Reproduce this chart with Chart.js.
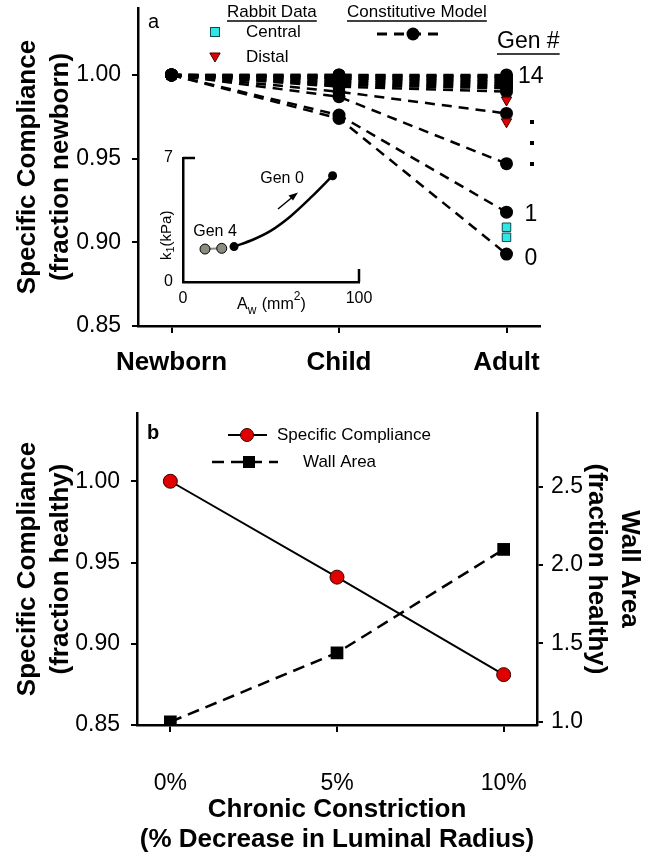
<!DOCTYPE html>
<html><head><meta charset="utf-8">
<script src="https://cdn.jsdelivr.net/npm/chart.js@4.4.0/dist/chart.umd.min.js"></script>
<style>
html,body{margin:0;padding:0;background:#fff;width:654px;height:854px;overflow:hidden}
canvas{position:absolute;left:0}
</style></head><body>
<canvas id="topc" width="654" height="380" style="top:0px"></canvas>
<canvas id="insetc" width="230" height="180" style="left:150px;top:145px"></canvas>
<canvas id="botc" width="654" height="474" style="top:380px"></canvas>
<script>
// ---------- DATA ----------
const stages = ['Newborn', 'Child', 'Adult'];
const genLabels = ['0','1','2','3','4','5','6','7','8','9','10','11','12','13','14'];
const gen0  = [1.000, 0.974, 0.893];
const gen1  = [1.000, 0.976, 0.918];
const gen2  = [1.000, 0.987, 0.947];
const gen3  = [1.000, 0.990, 0.977];
const gen4  = [1.000, 0.993, 0.990];
const gen5  = [1.000, 0.994, 0.992];
const gen6  = [1.000, 0.995, 0.993];
const gen7  = [1.000, 0.996, 0.994];
const gen8  = [1.000, 0.997, 0.995];
const gen9  = [1.000, 0.998, 0.996];
const gen10 = [1.000, 0.998, 0.997];
const gen11 = [1.000, 0.999, 0.998];
const gen12 = [1.000, 0.999, 0.999];
const gen13 = [1.000, 1.000, 0.999];
const gen14 = [1.000, 1.000, 1.000];
const centralAdult = [0.909, 0.903];
const distalAdult = [0.985, 0.972];
const topYTicks = [0.85, 0.90, 0.95, 1.00];

const insetGrayA = [12.5, 22];
const insetGrayK = [1.86, 1.90];
const insetCurveA = [29, 40, 50, 61, 73, 85];
const insetCurveK = [2.0, 2.4, 2.9, 3.7, 4.8, 6.0];
const insetXTicks = [0, 100];
const insetYTicks = [0, 7];

const constriction = ['0%', '5%', '10%'];
const complianceB = [1.000, 0.941, 0.881];
const wallArea = [1.00, 1.44, 2.10];
const botLeftTicks = [0.85, 0.90, 0.95, 1.00];
const botRightTicks = [1.0, 1.5, 2.0, 2.5];

// ---------- SETUP ----------
const FONT = '"Liberation Sans", Arial, sans-serif';
Chart.defaults.font.family = FONT;
Chart.defaults.color = '#000';
const gens = [gen0,gen1,gen2,gen3,gen4,gen5,gen6,gen7,gen8,gen9,gen10,gen11,gen12,gen13,gen14];
const setTicks = arr => (scale) => { scale.ticks = arr.map(v => ({value: v})); };
const fitV = w => s => { s.width = w; s.paddingTop = 0; s.paddingBottom = 0; };
const fitH = h => s => { s.height = h; s.paddingLeft = 0; s.paddingRight = 0; };
const CYAN = '#2ee6e6', RED = '#e00000';

function txt(ctx, s, x, y, font, align) {
  ctx.save(); ctx.font = font; ctx.fillStyle = '#000';
  ctx.textAlign = align || 'left'; ctx.textBaseline = 'middle';
  ctx.fillText(s, x, y);
  const w = ctx.measureText(s).width; ctx.restore();
  return w;
}
function uline(ctx, x1, x2, y) {
  ctx.save(); ctx.strokeStyle = '#000'; ctx.lineWidth = 1.5;
  ctx.beginPath(); ctx.moveTo(x1, y); ctx.lineTo(x2, y); ctx.stroke(); ctx.restore();
}

// ---------- TOP CHART ----------
const topDatasets = [
  { label: 'Central', data: centralAdult.map(v => ({x: 2, y: v})), showLine: false,
    pointStyle: 'rect', pointRadius: 6, pointBackgroundColor: CYAN, pointBorderColor: '#0b4b4b', pointBorderWidth: 1 },
  { label: 'Distal', data: distalAdult.map(v => ({x: 2, y: v})), showLine: false,
    pointStyle: 'triangle', rotation: 180, pointRadius: 6, pointBackgroundColor: RED, pointBorderColor: '#400', pointBorderWidth: 1 }
];
gens.forEach((g, i) => topDatasets.push({
  label: 'Gen ' + genLabels[i], data: g.map((v, j) => ({x: j, y: v})),
  borderColor: '#000', borderWidth: 2.5, borderDash: [10, 7],
  pointRadius: 6.5, pointBackgroundColor: '#000', pointBorderWidth: 0, tension: 0
}));

const topLegend = {
  id: 'topLegend',
  afterDraw(chart) {
    const ctx = chart.ctx, y = chart.scales.y;
    txt(ctx, 'a', 148, 22, '20px ' + FONT);
    let w = txt(ctx, 'Rabbit Data', 227, 12, '17px ' + FONT); uline(ctx, 227, 227 + w, 21);
    ctx.save(); ctx.fillStyle = CYAN; ctx.strokeStyle = '#0b4b4b'; ctx.lineWidth = 1;
    ctx.fillRect(210.5, 27.5, 9, 9); ctx.strokeRect(210.5, 27.5, 9, 9); ctx.restore();
    txt(ctx, 'Central', 246, 32, '17px ' + FONT);
    ctx.save(); ctx.fillStyle = RED; ctx.strokeStyle = '#400'; ctx.lineWidth = 1;
    Chart.helpers.drawPoint(ctx, {pointStyle: 'triangle', rotation: 180, radius: 6, borderWidth: 1}, 215, 56);
    ctx.restore();
    txt(ctx, 'Distal', 246, 57, '17px ' + FONT);
    w = txt(ctx, 'Constitutive Model', 347, 12, '17px ' + FONT); uline(ctx, 347, 347 + w, 21);
    ctx.save(); ctx.strokeStyle = '#000'; ctx.lineWidth = 3; ctx.setLineDash([10, 7]);
    ctx.beginPath(); ctx.moveTo(377, 34); ctx.lineTo(443, 34); ctx.stroke(); ctx.restore();
    ctx.save(); ctx.fillStyle = '#000'; ctx.beginPath(); ctx.arc(413, 34, 6.5, 0, Math.PI * 2); ctx.fill(); ctx.restore();
    w = txt(ctx, 'Gen #', 497, 42, '23px ' + FONT); uline(ctx, 497, 497 + w, 54);
    txt(ctx, '14', 518, y.getPixelForValue(gen14[2]) + 2, '23px ' + FONT);
    txt(ctx, '1', 531, y.getPixelForValue(gen1[2]) + 2, '23px ' + FONT, 'center');
    txt(ctx, '0', 531, y.getPixelForValue(gen0[2]) + 5, '23px ' + FONT, 'center');
    ctx.save(); ctx.fillStyle = '#000';
    [122, 143, 164].forEach(yy => ctx.fillRect(530, yy - 2, 4, 4)); ctx.restore();
  }
};

new Chart(document.getElementById('topc'), {
  type: 'line',
  data: { datasets: topDatasets },
  options: {
    responsive: false, animation: false, devicePixelRatio: 1,
    layout: { padding: { top: 8, right: 114, left: 0, bottom: 0 } },
    plugins: { legend: { display: false }, tooltip: { enabled: false } },
    scales: {
      x: { type: 'linear', min: -0.2, max: 2.2,
        afterBuildTicks: setTicks([0, 1, 2]),
        afterFit: fitH(54),
        ticks: { callback: v => stages[v], font: { size: 26, weight: 'bold' }, padding: 14, maxRotation: 0 },
        grid: { display: true, drawOnChartArea: false, drawTicks: true, tickLength: 7, color: '#000', lineWidth: 2 },
        border: { display: true, color: '#000', width: 2.5 } },
      y: { min: 0.85, max: 1.04,
        afterBuildTicks: setTicks(topYTicks),
        afterFit: fitV(138),
        ticks: { callback: v => v.toFixed(2), font: { size: 23 }, padding: 11 },
        grid: { display: true, drawOnChartArea: false, drawTicks: true, tickLength: 6, color: '#000', lineWidth: 2 },
        border: { display: true, color: '#000', width: 2.5 },
        title: { display: true, text: ['Specific Compliance', '(fraction newborn)'],
          font: { size: 26, weight: 'bold', lineHeight: 1.27 }, padding: { top: 11, bottom: 0 } } }
    }
  },
  plugins: [topLegend]
});

// ---------- INSET ----------
const insetDeco = {
  id: 'insetDeco',
  afterDraw(chart) {
    const ctx = chart.ctx, a = chart.chartArea;
    ctx.save(); ctx.strokeStyle = '#000'; ctx.lineWidth = 2.5;
    ctx.beginPath(); ctx.moveTo(a.left, a.top); ctx.lineTo(a.left + 12, a.top); ctx.stroke();
    ctx.beginPath(); ctx.moveTo(a.right, a.bottom); ctx.lineTo(a.right, a.bottom - 13); ctx.stroke();
    ctx.restore();
    // y title k1 (kPa)
    ctx.save(); ctx.translate(17, 77); ctx.rotate(-Math.PI / 2);
    ctx.fillStyle = '#000'; ctx.textBaseline = 'middle'; ctx.textAlign = 'left';
    const f = '15px ' + FONT, fs = '11px ' + FONT;
    ctx.font = f; let x = -38; ctx.fillText('k', x, 0); x += ctx.measureText('k').width;
    ctx.font = fs; ctx.fillText('1', x, 4); x += ctx.measureText('1').width;
    ctx.font = f; ctx.fillText('(kPa)', x, 0);
    ctx.restore();
    // x title Aw (mm2)
    ctx.save(); ctx.fillStyle = '#000'; ctx.textBaseline = 'middle';
    ctx.font = '16px ' + FONT; x = 87; const yy = 160;
    ctx.fillText('A', x, yy); x += ctx.measureText('A').width;
    ctx.font = '12px ' + FONT; ctx.fillText('w', x, yy + 6); x += ctx.measureText('w').width + 1;
    ctx.font = '16px ' + FONT; ctx.fillText(' (mm', x, yy); x += ctx.measureText(' (mm').width;
    ctx.font = '12px ' + FONT; ctx.fillText('2', x, yy - 8); x += ctx.measureText('2').width;
    ctx.font = '16px ' + FONT; ctx.fillText(')', x, yy);
    ctx.restore();
    txt(ctx, 'Gen 4', 65, 87, '16px ' + FONT, 'center');
    txt(ctx, 'Gen 0', 132, 34, '16px ' + FONT, 'center');
    // arrow
    ctx.save(); ctx.strokeStyle = '#000'; ctx.fillStyle = '#000'; ctx.lineWidth = 1.5;
    ctx.beginPath(); ctx.moveTo(128, 64); ctx.lineTo(145, 50); ctx.stroke();
    ctx.beginPath(); ctx.moveTo(148, 47.5); ctx.lineTo(138.5, 50.5); ctx.lineTo(143, 55.5); ctx.closePath(); ctx.fill();
    ctx.restore();
  }
};

new Chart(document.getElementById('insetc'), {
  type: 'line',
  data: { datasets: [
    { data: insetCurveA.map((a, i) => ({x: a, y: insetCurveK[i]})), borderColor: '#000', borderWidth: 2.5,
      cubicInterpolationMode: 'monotone',
      pointRadius: insetCurveA.map((a, i) => (i === 0 || i === insetCurveA.length - 1) ? 4.5 : 0),
      pointBackgroundColor: '#000', pointBorderWidth: 0 },
    { data: insetGrayA.map((a, i) => ({x: a, y: insetGrayK[i]})), borderColor: '#888', borderWidth: 2,
      pointRadius: 5, pointBackgroundColor: '#8b8b80', pointBorderColor: '#000', pointBorderWidth: 1 }
  ] },
  options: {
    responsive: false, animation: false, devicePixelRatio: 1,
    layout: { padding: { top: 13, right: 21, left: 0, bottom: 0 } },
    plugins: { legend: { display: false }, tooltip: { enabled: false } },
    scales: {
      x: { type: 'linear', min: 0, max: 100, afterBuildTicks: setTicks(insetXTicks),
        afterFit: fitH(43),
        ticks: { font: { size: 16 }, padding: 7, maxRotation: 0 },
        grid: { display: false, drawTicks: false },
        border: { display: true, color: '#000', width: 2.5 } },
      y: { min: 0, max: 7, afterBuildTicks: setTicks(insetYTicks),
        afterFit: fitV(33),
        ticks: { font: { size: 16 }, padding: 10 },
        grid: { display: false, drawTicks: false },
        border: { display: true, color: '#000', width: 2.5 } }
    }
  },
  plugins: [insetDeco]
});

// ---------- BOTTOM CHART ----------
const botLegend = {
  id: 'botLegend',
  afterDraw(chart) {
    const ctx = chart.ctx;
    txt(ctx, 'b', 147, 53, 'bold 20px ' + FONT);
    ctx.save(); ctx.strokeStyle = '#000'; ctx.lineWidth = 2;
    ctx.beginPath(); ctx.moveTo(228, 55); ctx.lineTo(267, 55); ctx.stroke();
    ctx.fillStyle = RED; ctx.strokeStyle = '#300'; ctx.lineWidth = 1;
    ctx.beginPath(); ctx.arc(247, 55, 6.5, 0, Math.PI * 2); ctx.fill(); ctx.stroke();
    ctx.restore();
    txt(ctx, 'Specific Compliance', 277, 55, '17px ' + FONT);
    ctx.save(); ctx.strokeStyle = '#000'; ctx.lineWidth = 2.5; ctx.setLineDash([12, 7]);
    ctx.beginPath(); ctx.moveTo(212, 82); ctx.lineTo(278, 82); ctx.stroke();
    ctx.setLineDash([]); ctx.fillStyle = '#000'; ctx.fillRect(243, 76, 12, 12); ctx.restore();
    txt(ctx, 'Wall Area', 303, 82, '17px ' + FONT);
  }
};

new Chart(document.getElementById('botc'), {
  type: 'line',
  data: { datasets: [
    { label: 'Specific Compliance', yAxisID: 'y', data: complianceB.map((v, i) => ({x: i, y: v})),
      borderColor: '#000', borderWidth: 2, pointRadius: 7, pointBackgroundColor: RED,
      pointBorderColor: '#300', pointBorderWidth: 1 },
    { label: 'Wall Area', yAxisID: 'y1', data: wallArea.map((v, i) => ({x: i, y: v})),
      borderColor: '#000', borderWidth: 2.5, borderDash: [12, 7], pointStyle: 'rect', pointRadius: 9,
      pointBackgroundColor: '#000', pointBorderWidth: 0 }
  ] },
  options: {
    responsive: false, animation: false, devicePixelRatio: 1,
    layout: { padding: { top: 33, right: 0, left: 0, bottom: 0 } },
    plugins: { legend: { display: false }, tooltip: { enabled: false } },
    scales: {
      x: { type: 'linear', min: -0.2, max: 2.2, afterBuildTicks: setTicks([0, 1, 2]),
        afterFit: fitH(129),
        ticks: { callback: v => constriction[v], font: { size: 23 }, padding: 38, maxRotation: 0 },
        grid: { display: true, drawOnChartArea: false, drawTicks: true, tickLength: 7, color: '#000', lineWidth: 2 },
        border: { display: true, color: '#000', width: 2.5 },
        title: { display: true, text: ['Chronic Constriction', '(% Decrease in Luminal Radius)'],
          font: { size: 26, weight: 'bold', lineHeight: 1.15 }, padding: { top: 0, bottom: -1 } } },
      y: { position: 'left', min: 0.85, max: 1.042, afterBuildTicks: setTicks(botLeftTicks),
        afterFit: fitV(137),
        ticks: { callback: v => v.toFixed(2), font: { size: 23 }, padding: 11 },
        grid: { display: true, drawOnChartArea: false, drawTicks: true, tickLength: 6, color: '#000', lineWidth: 2 },
        border: { display: true, color: '#000', width: 2.5 },
        title: { display: true, text: ['Specific Compliance', '(fraction healthy)'],
          font: { size: 26, weight: 'bold', lineHeight: 1.27 }, padding: { top: 11, bottom: 0 } } },
      y1: { position: 'right', min: 0.98, max: 2.97, afterBuildTicks: setTicks(botRightTicks),
        afterFit: fitV(117),
        ticks: { callback: v => v.toFixed(1), font: { size: 23 }, padding: 8 },
        grid: { display: true, drawOnChartArea: false, drawTicks: true, tickLength: 6, color: '#000', lineWidth: 2 },
        border: { display: true, color: '#000', width: 2.5 },
        title: { display: true, text: ['Wall Area', '(fraction healthy)'],
          font: { size: 26, weight: 'bold', lineHeight: 1.27 }, padding: { top: 8, bottom: 0 } } }
    }
  },
  plugins: [botLegend]
});
</script>
</body></html>
